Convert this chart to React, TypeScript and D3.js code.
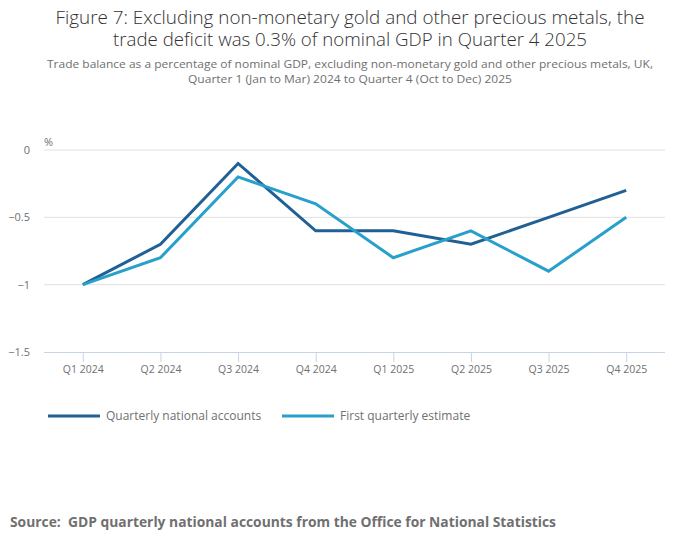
import React, { useEffect, useRef } from 'react'
import * as d3 from 'd3'

const quarters = ['Q1 2024', 'Q2 2024', 'Q3 2024', 'Q4 2024', 'Q1 2025', 'Q2 2025', 'Q3 2025', 'Q4 2025']
const quarterlyNationalAccounts = [-1, -0.7, -0.1, -0.6, -0.6, -0.7, -0.5, -0.3]
const firstQuarterlyEstimate = [-1, -0.8, -0.2, -0.4, -0.8, -0.6, -0.9, -0.5]
const yTicks = [0, -0.5, -1, -1.5]

const seriesList = [
  { name: 'Quarterly national accounts', values: quarterlyNationalAccounts, color: '#206095' },
  { name: 'First quarterly estimate', values: firstQuarterlyEstimate, color: '#27a0cc' },
]

const FONT = '"Open Sans", sans-serif'

function App() {
  const width = 700
  const height = 549
  const refSvg = useRef<SVGSVGElement>(null)

  const draw = () => {
    const svg = d3.select(refSvg.current)
    svg.selectAll('*').remove()

    // titles
    const title = svg.append('g').attr('font-family', FONT).attr('text-anchor', 'middle')
    title.append('text').attr('x', 350).attr('y', 24).attr('font-size', 18).attr('font-weight', 300)
      .attr('fill', '#323132')
      .attr('textLength', 589).attr('lengthAdjust', 'spacingAndGlyphs')
      .text('Figure 7: Excluding non-monetary gold and other precious metals, the')
    title.append('text').attr('x', 350).attr('y', 46).attr('font-size', 18).attr('font-weight', 300)
      .attr('fill', '#323132')
      .attr('textLength', 474).attr('lengthAdjust', 'spacingAndGlyphs')
      .text('trade deficit was 0.3% of nominal GDP in Quarter 4 2025')
    title.append('text').attr('x', 350).attr('y', 68).attr('font-size', 11.5).attr('fill', '#707070')
      .attr('textLength', 606).attr('lengthAdjust', 'spacingAndGlyphs')
      .text('Trade balance as a percentage of nominal GDP, excluding non-monetary gold and other precious metals, UK,')
    title.append('text').attr('x', 350).attr('y', 83).attr('font-size', 11.5).attr('fill', '#707070')
      .attr('textLength', 324).attr('lengthAdjust', 'spacingAndGlyphs')
      .text('Quarter 1 (Jan to Mar) 2024 to Quarter 4 (Oct to Dec) 2025')

    const left = 44
    const right = 665
    const top = 150
    const bottom = 352

    const x = d3.scalePoint<string>().domain(quarters).range([left, right]).padding(0.5)
    const y = d3.scaleLinear().domain([-1.5, 0]).range([bottom, top])

    // grid
    svg.append('g').selectAll('line').data(yTicks.filter((t) => t !== -1.5)).join('line')
      .attr('x1', left).attr('x2', right)
      .attr('y1', (d) => y(d)).attr('y2', (d) => y(d))
      .attr('stroke', '#e0e0e0').attr('stroke-width', 1)

    // y axis labels
    svg.append('g').selectAll('text').data(yTicks).join('text')
      .attr('x', 30).attr('y', (d) => y(d) + 4)
      .attr('text-anchor', 'end').attr('font-family', FONT).attr('font-size', 11).attr('fill', '#707070')
      .text((d) => d3.format('~g')(d))

    svg.append('text').attr('x', 44).attr('y', 146).attr('font-family', FONT).attr('font-size', 11)
      .attr('fill', '#707070').text('%')

    // x axis
    const xAxis = svg.append('g').attr('transform', `translate(0, ${bottom})`)
      .call(d3.axisBottom(x).tickSize(10).tickPadding(4))
    xAxis.select('.domain').attr('d', `M${left},0.5H${right}`).attr('stroke', '#c6d4ea')
    xAxis.selectAll('.tick line').attr('stroke', '#c6d4ea')
    xAxis.selectAll('.tick text').attr('font-family', FONT).attr('font-size', 10.5).attr('fill', '#707070')

    // lines
    const line = d3.line<number>()
      .x((_, i) => x(quarters[i]) as number)
      .y((d) => y(d))

    svg.append('g').selectAll('path').data(seriesList).join('path')
      .attr('fill', 'none')
      .attr('stroke', (d) => d.color)
      .attr('stroke-width', 3)
      .attr('stroke-linejoin', 'miter')
      .attr('d', (d) => line(d.values))

    // legend
    const legendX = [48, 282]
    const legend = svg.append('g').selectAll('g').data(seriesList).join('g')
      .attr('transform', (_, i) => `translate(${legendX[i]}, 416)`)
    legend.append('line').attr('x1', 0).attr('x2', 52).attr('stroke', (d) => d.color).attr('stroke-width', 3)
    legend.append('text').attr('x', 58).attr('y', 4).attr('font-family', FONT).attr('font-size', 12)
      .attr('fill', '#707070').text((d) => d.name)

    // source
    svg.append('text').attr('x', 10).attr('y', 527).attr('font-family', FONT).attr('font-size', 14)
      .attr('font-weight', 'bold').attr('fill', '#707070').style('white-space', 'pre')
      .attr('textLength', 546).attr('lengthAdjust', 'spacingAndGlyphs')
      .text('Source:  GDP quarterly national accounts from the Office for National Statistics')
  }

  useEffect(() => {
    if (refSvg.current) {
      draw()
    }
  })

  return (
    <svg ref={refSvg} width={width} height={height} style={{ position: 'absolute', left: 0, top: 0 }} />
  )
}

export default App
